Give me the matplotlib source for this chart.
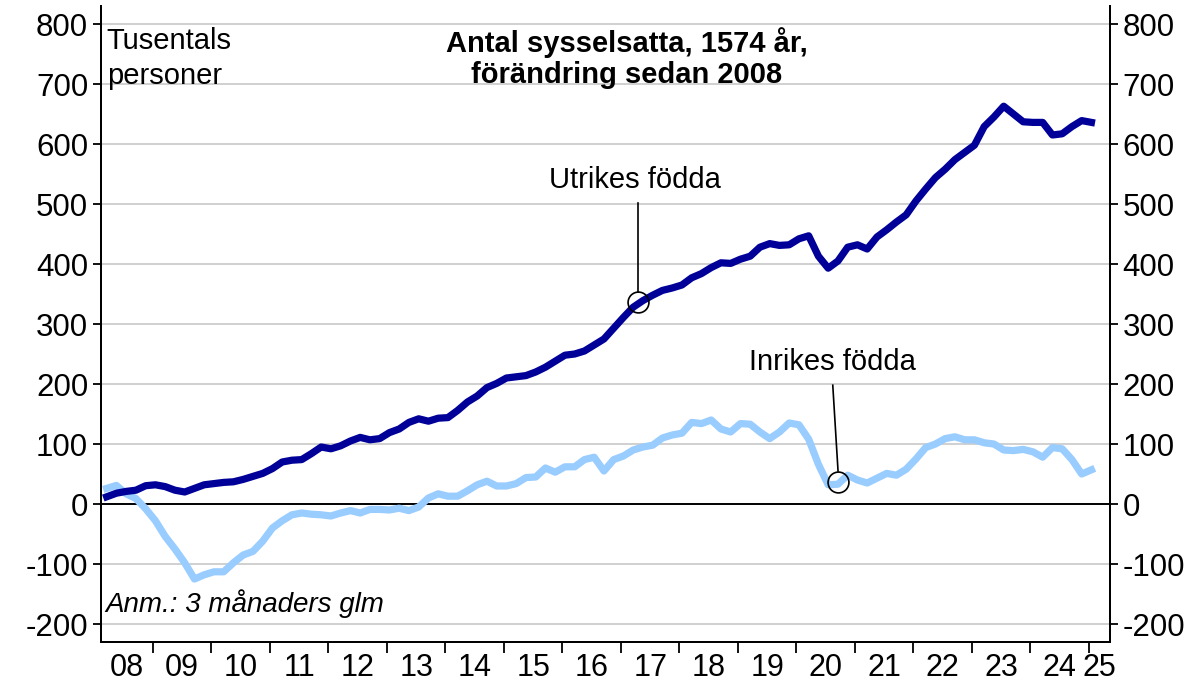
import matplotlib
matplotlib.use('Agg')
import matplotlib.pyplot as plt
import numpy as np
import pandas as pd

plt.rcParams['font.family'] = ['Liberation Sans', 'DejaVu Sans']
plt.rcParams['axes.unicode_minus'] = False

# Every second month, Mar 2008 - Jan 2025, thousands of persons, change since 2008
dates = pd.date_range('2008-03-01', periods=102, freq='2MS')

utrikes = [
    12, 18, 21, 23, 30.5, 32, 29, 23, 20, 26,
    32, 34, 36, 37, 41, 46, 51, 59, 70, 73,
    74, 84, 95, 92, 97, 105, 111, 107, 109, 119,
    125, 136, 142, 138, 143, 144, 156, 170, 180, 194,
    201, 210, 212, 214, 220, 228, 238, 248, 250, 255,
    265, 275, 293, 311, 328, 339, 348, 356, 360, 365,
    377, 384, 394, 402, 401, 408, 413, 428, 434, 431,
    432, 442, 447, 413, 393, 405, 428, 432, 425, 445,
    457, 470, 482, 505, 525, 544, 558, 574, 586, 598,
    629, 645, 663, 650, 637, 636, 636, 615, 617, 629,
    639, 636,
]

inrikes = [
    26, 31, 17, 9, -8, -28, -54, -75, -98, -125,
    -118, -113, -113, -98, -85, -79, -62, -40, -28, -18,
    -15, -17, -18, -20, -15, -11, -15, -9, -9, -10,
    -7, -11, -5, 10, 17, 13, 13, 22, 32, 38,
    30, 30, 34, 44, 45, 60, 53, 62, 62, 74,
    78, 55, 74, 80, 90, 95, 98, 110, 115, 118,
    136, 134, 140, 125, 120, 134, 133, 120, 109, 120,
    135, 132, 108, 66, 32, 33, 48, 40, 35, 43,
    51, 48, 58, 75, 94, 100, 109, 112, 107, 107,
    102, 100, 90, 89, 91, 87, 78, 94, 92, 74,
    50, 57,
]

year_labels = ['08', '09', '10', '11', '12', '13', '14', '15', '16',
               '17', '18', '19', '20', '21', '22', '23', '24', '25']
y_ticks = [-200, -100, 0, 100, 200, 300, 400, 500, 600, 700, 800]

x = dates.year + (dates.month - 0.5) / 12

dark = '#000099'
light = '#99ccff'
fs = 21

fig = plt.figure(figsize=(12.04, 6.88), dpi=100)
ax = fig.add_axes([100.7 / 1204, 46 / 688, (1110 - 100.7) / 1204, 636 / 688])
x0, x1 = 2008.106, 2025.359
ax.set_xlim(x0, x1)
ax.set_ylim(-230, 830)

ax.set_yticks(y_ticks)
ax.set_yticklabels([str(v) for v in y_ticks])
ax.yaxis.grid(True, color='#c8c8c8', lw=1.2)
ax.set_axisbelow(True)
ax.axhline(0, color='black', lw=1.4, zorder=2)

ax.plot(x, inrikes, color=light, lw=5.2, zorder=3)
ax.plot(x, utrikes, color=dark, lw=5.2, zorder=4)

# year boundaries as ticks, labels centred in each year
first = int(np.floor(x0)) + 1
bounds = list(range(first, int(np.floor(x1)) + 1))
ax.set_xticks(bounds)
ax.set_xticklabels([])
edges = [x0] + bounds + [x1]
mids = [(a + b) / 2 for a, b in zip(edges[:-1], edges[1:])]
ax.set_xticks(mids, minor=True)
ax.set_xticklabels(year_labels, minor=True,
                   family=['Liberation Sans Narrow', 'Liberation Sans'], fontsize=22)
ax.tick_params(axis='x', which='major', length=8, width=1.3, direction='out')
ax.tick_params(axis='x', which='minor', length=0, pad=8)
ax.tick_params(axis='y', length=6, width=1.3, labelsize=22.5, pad=3)

ax2 = ax.twinx()
ax2.set_ylim(ax.get_ylim())
ax2.set_yticks(y_ticks)
ax2.set_yticklabels([str(v) for v in y_ticks])
ax2.tick_params(axis='y', length=6, width=1.3, labelsize=22.5, pad=3)

for a in (ax, ax2):
    a.spines['top'].set_visible(False)
    for s in ('left', 'right', 'bottom'):
        a.spines[s].set_linewidth(1.4)
        a.spines[s].set_color('black')

fig.text(627 / 1204, 1 - 27 / 688, 'Antal sysselsatta, 1574 år,\nförändring sedan 2008',
         ha='center', va='top', fontsize=21, fontweight='bold', linespacing=1.15)
ax.text(2008.21, 795, 'Tusentals\npersoner', ha='left', va='top', fontsize=fs, linespacing=1.32)
ax.text(2008.18, -180, 'Anm.: 3 månaders glm', ha='left', va='baseline',
        fontsize=20, style='italic')

# annotations
ax.text(2017.24, 527, 'Utrikes födda', ha='center', va='baseline', fontsize=fs)
ax.plot([2017.29, 2017.29], [502, 353], color='black', lw=1.2, zorder=5)
ax.plot([2017.29], [337], marker='o', ms=15, mfc='none', mec='black', mew=1.2, zorder=5)

ax.text(2020.62, 223, 'Inrikes födda', ha='center', va='baseline', fontsize=fs)
ax.plot([2020.62, 2020.71], [198, 55], color='black', lw=1.2, zorder=5)
ax.plot([2020.71], [37], marker='o', ms=15, mfc='none', mec='black', mew=1.2, zorder=5)

fig.savefig('out.png', dpi=100)
